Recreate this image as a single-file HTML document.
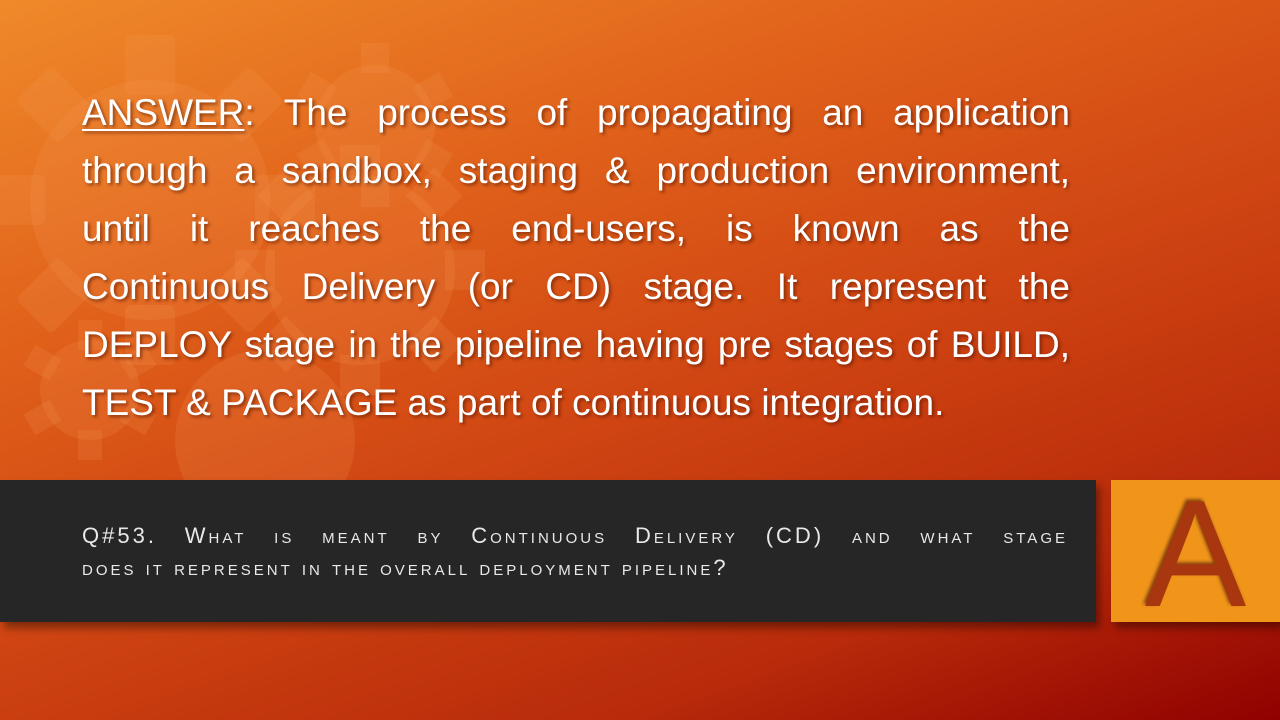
<!DOCTYPE html>
<html><head><meta charset="utf-8"><style>
html,body{margin:0;padding:0}
body{width:1280px;height:720px;overflow:hidden;position:relative;font-family:"Liberation Sans",sans-serif;
background:linear-gradient(160deg,#ef8a2a 0%,#e0601a 30%,#cf4412 55%,#b82a0a 80%,#900000 100%);}
#ans{position:absolute;left:82px;top:84px;width:988px;color:#fff;font-size:37px;line-height:58px;text-shadow:2px 2px 3px rgba(80,20,0,.6)}
#ans div{text-align:justify;text-align-last:justify;white-space:nowrap}
#ans div.l{text-align-last:left}
#ans u{text-decoration-thickness:2px;text-underline-offset:4px}
#bar{position:absolute;left:0;top:480px;width:1096px;height:142px;background:#262626;box-shadow:4px 6px 8px rgba(0,0,0,.4)}
#q{position:absolute;left:82px;top:520px;width:986px;color:#e8e8e8;font-size:22px;line-height:32px;font-variant:small-caps;letter-spacing:3px}
#q div{text-align:justify;text-align-last:justify;white-space:nowrap}
#q div.l{text-align-last:left}
#abox{position:absolute;left:1111px;top:480px;width:169px;height:142px;background:#f0941a;box-shadow:4px 6px 8px rgba(0,0,0,.4);overflow:hidden}
#abox span{position:absolute;left:0;width:169px;top:-6px;text-align:center;font-size:152px;line-height:160px;color:#a8360e;text-shadow:-2px -2px 3px rgba(60,10,0,.6)}
</style></head><body>
<svg width="700" height="480" style="position:absolute;left:0;top:0" fill="#f7a060" fill-opacity="0.16">
<g transform="translate(150,200)"><circle r="120"/><rect x="-25" y="-165" width="50" height="60" rx="6"/><rect x="-25" y="-165" width="50" height="60" rx="6" transform="rotate(45)"/><rect x="-25" y="-165" width="50" height="60" rx="6" transform="rotate(90)"/><rect x="-25" y="-165" width="50" height="60" rx="6" transform="rotate(135)"/><rect x="-25" y="-165" width="50" height="60" rx="6" transform="rotate(180)"/><rect x="-25" y="-165" width="50" height="60" rx="6" transform="rotate(225)"/><rect x="-25" y="-165" width="50" height="60" rx="6" transform="rotate(270)"/><rect x="-25" y="-165" width="50" height="60" rx="6" transform="rotate(315)"/></g>
<g transform="translate(375,125)"><circle r="60"/><rect x="-14" y="-82" width="28" height="30"/><rect x="-14" y="-82" width="28" height="30" transform="rotate(60)"/><rect x="-14" y="-82" width="28" height="30" transform="rotate(120)"/><rect x="-14" y="-82" width="28" height="30" transform="rotate(180)"/><rect x="-14" y="-82" width="28" height="30" transform="rotate(240)"/><rect x="-14" y="-82" width="28" height="30" transform="rotate(300)"/></g>
<g transform="translate(360,270)"><circle r="95"/><rect x="-20" y="-125" width="40" height="40"/><rect x="-20" y="-125" width="40" height="40" transform="rotate(45)"/><rect x="-20" y="-125" width="40" height="40" transform="rotate(90)"/><rect x="-20" y="-125" width="40" height="40" transform="rotate(135)"/><rect x="-20" y="-125" width="40" height="40" transform="rotate(180)"/><rect x="-20" y="-125" width="40" height="40" transform="rotate(225)"/><rect x="-20" y="-125" width="40" height="40" transform="rotate(270)"/><rect x="-20" y="-125" width="40" height="40" transform="rotate(315)"/></g>
<g transform="translate(90,390)"><circle r="50"/><rect x="-12" y="-70" width="24" height="30"/><rect x="-12" y="-70" width="24" height="30" transform="rotate(60)"/><rect x="-12" y="-70" width="24" height="30" transform="rotate(120)"/><rect x="-12" y="-70" width="24" height="30" transform="rotate(180)"/><rect x="-12" y="-70" width="24" height="30" transform="rotate(240)"/><rect x="-12" y="-70" width="24" height="30" transform="rotate(300)"/></g>
<g transform="translate(265,440)"><circle r="90"/></g>
</svg>
<div id="ans">
<div><u>ANSWER</u>: The process of propagating an application</div>
<div>through a sandbox, staging &amp; production environment,</div>
<div>until it reaches the end-users, is known as the</div>
<div>Continuous Delivery (or CD) stage. It represent the</div>
<div>DEPLOY stage in the pipeline having pre stages of BUILD,</div>
<div class="l">TEST &amp; PACKAGE as part of continuous integration.</div>
</div>
<div id="bar"></div>
<div id="q">
<div>Q#53. What is meant by Continuous Delivery (CD) and what stage</div>
<div class="l">does it represent in the overall deployment pipeline?</div>
</div>
<div id="abox"><span>A</span></div>
</body></html>
